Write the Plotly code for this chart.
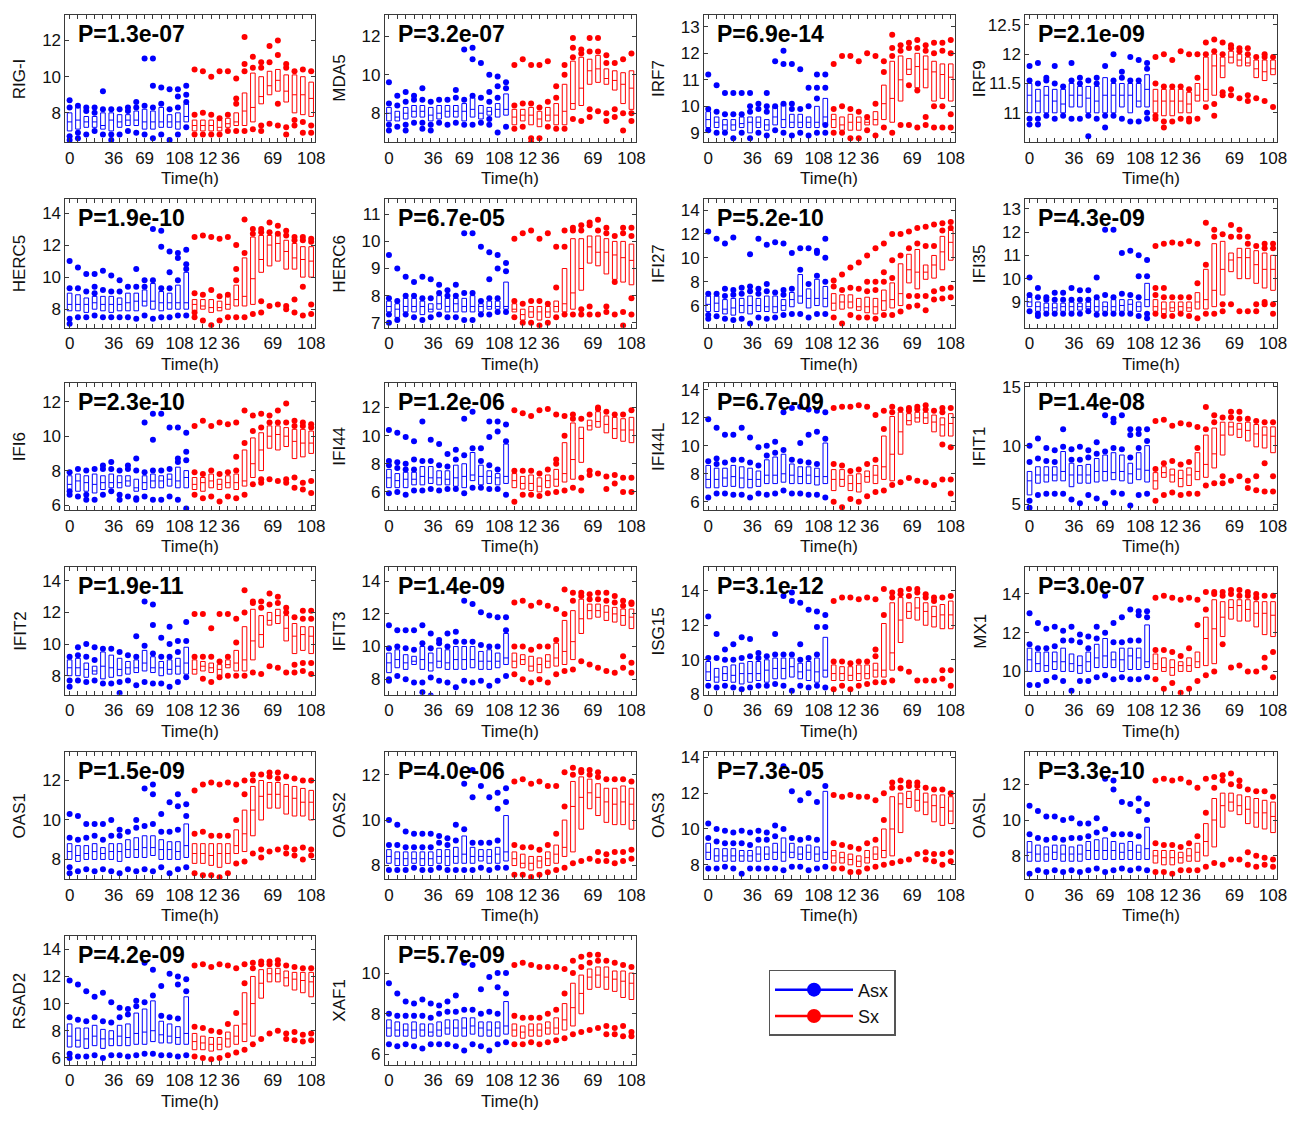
import plotly.graph_objects as go

# ---------------------------------------------------------------- data
GENES = ["RIG-I", "MDA5", "IRF7", "IRF9", "HERC5", "HERC6", "IFI27", "IFI35",
         "IFI6", "IFI44", "IFI44L", "IFIT1", "IFIT2", "IFIT3", "ISG15", "MX1",
         "OAS1", "OAS2", "OAS3", "OASL", "RSAD2", "XAF1"]

P_VALUES = ["1.3e-07", "3.2e-07", "6.9e-14", "2.1e-09", "1.9e-10", "6.7e-05",
            "5.2e-10", "4.3e-09", "2.3e-10", "1.2e-06", "6.7e-09", "1.4e-08",
            "1.9e-11", "1.4e-09", "3.1e-12", "3.0e-07", "1.5e-09", "4.0e-06",
            "7.3e-05", "3.3e-10", "4.2e-09", "5.7e-09"]

# sampling times (h) of each group
HOURS = [0, 5, 12, 21, 29, 36, 45, 53, 60, 69, 77, 84, 93, 101, 108]
TIME_LABELS = ["0", "36", "69", "108", "12", "36", "69", "108"]
TIME_LABEL_POS = [1, 6.3, 10, 14.2, 17.6, 20.3, 25.4, 30]

Y_RANGES = [[6.38, 13.42], [6.5, 13.1], [8.65, 13.45], [10.5, 12.67],
            [6.85, 14.85], [6.82, 11.55], [4.15, 14.9], [7.9, 13.4],
            [5.7, 13.1], [4.7, 13.75], [5.4, 14.5], [4.5, 15.35],
            [6.8, 14.85], [7.05, 14.85], [7.98, 15.35], [8.8, 15.37],
            [7.0, 13.45], [7.4, 13.0], [7.2, 14.3], [6.7, 13.8],
            [5.5, 14.95], [5.5, 11.8]]
Y_TICKS = [[8, 10, 12], [8, 10, 12], [9, 10, 11, 12, 13], [11, 11.5, 12, 12.5],
           [8, 10, 12, 14], [7, 8, 9, 10, 11], [6, 8, 10, 12, 14], [9, 10, 11, 12, 13],
           [6, 8, 10, 12], [6, 8, 10, 12], [6, 8, 10, 12, 14], [5, 10, 15],
           [8, 10, 12, 14], [8, 10, 12, 14], [8, 10, 12, 14], [10, 12, 14],
           [8, 10, 12], [8, 10, 12], [8, 10, 12, 14], [8, 10, 12],
           [6, 8, 10, 12, 14], [6, 8, 10]]

# (q1, median, q3) per time point, asymptomatic group
ASX_BOXES = [
    [(7.0, 7.5, 8.0), (7.1, 7.6, 8.3), (7.2, 7.5, 7.8), (7.2, 7.5, 7.8), (7.1, 7.3, 8.0), (7.0, 7.6, 8.0), (7.2, 7.5, 7.9), (7.3, 7.6, 7.9), (7.3, 7.6, 8.1), (7.1, 7.5, 8.2), (7.1, 7.5, 8.1), (7.2, 7.5, 8.3), (7.2, 7.5, 7.9), (7.1, 7.5, 8.0), (7.5, 7.8, 8.5)],
    [(7.6, 8.0, 8.3), (7.6, 7.8, 8.1), (7.7, 8.0, 8.3), (7.8, 8.1, 8.4), (7.8, 8.1, 8.4), (7.6, 7.9, 8.3), (7.7, 8.0, 8.4), (7.8, 8.1, 8.4), (7.8, 8.1, 8.4), (7.6, 8.1, 8.5), (7.8, 8.2, 8.8), (7.7, 8.0, 8.4), (7.9, 8.1, 8.3), (7.8, 8.2, 8.5), (7.9, 8.2, 9.0)],
    [(9.2, 9.5, 9.8), (9.2, 9.4, 9.6), (9.1, 9.3, 9.5), (9.1, 9.3, 9.5), (9.2, 9.35, 9.6), (9.0, 9.4, 9.6), (9.2, 9.4, 9.6), (9.1, 9.3, 9.5), (9.3, 9.6, 10.0), (9.2, 9.5, 10.1), (9.2, 9.4, 9.7), (9.2, 9.4, 9.7), (9.2, 9.4, 9.6), (9.2, 9.4, 10.0), (9.3, 9.6, 10.3)],
    [(11.0, 11.3, 11.5), (11.0, 11.2, 11.4), (11.0, 11.3, 11.45), (11.0, 11.2, 11.4), (11.0, 11.15, 11.4), (11.1, 11.3, 11.5), (11.1, 11.3, 11.45), (11.0, 11.25, 11.45), (11.0, 11.2, 11.45), (11.0, 11.3, 11.6), (11.0, 11.3, 11.5), (11.1, 11.3, 11.5), (11.0, 11.3, 11.5), (11.1, 11.2, 11.5), (11.1, 11.4, 11.65)],
    [(7.9, 8.3, 9.0), (7.9, 8.3, 8.9), (7.8, 8.3, 8.7), (8.0, 8.4, 8.8), (7.9, 8.3, 8.8), (7.8, 8.3, 8.8), (7.9, 8.3, 8.7), (7.9, 8.4, 9.0), (7.9, 8.5, 9.0), (8.2, 8.5, 9.2), (8.0, 8.5, 9.6), (7.9, 8.4, 9.1), (8.0, 8.4, 9.0), (8.0, 8.4, 9.5), (8.0, 8.4, 10.3)],
    [(7.4, 7.6, 7.8), (7.2, 7.5, 7.7), (7.4, 7.6, 7.9), (7.4, 7.6, 7.9), (7.3, 7.6, 7.8), (7.4, 7.5, 7.7), (7.5, 7.7, 8.0), (7.4, 7.6, 7.9), (7.4, 7.7, 7.9), (7.4, 7.6, 7.9), (7.4, 7.6, 8.0), (7.4, 7.6, 7.7), (7.5, 7.6, 7.8), (7.5, 7.6, 7.8), (7.5, 7.6, 8.5)],
    [(5.5, 6.1, 6.8), (5.5, 6.2, 6.8), (5.3, 5.7, 6.5), (5.2, 5.8, 6.6), (5.4, 6.0, 6.6), (5.3, 6.0, 6.8), (5.5, 6.0, 6.6), (5.5, 5.9, 6.8), (5.4, 5.9, 6.8), (5.6, 6.0, 6.5), (5.9, 6.5, 7.1), (6.2, 6.8, 8.6), (5.8, 6.6, 7.4), (6.0, 6.6, 8.2), (5.9, 6.6, 7.6)],
    [(8.8, 9.0, 9.2), (8.6, 8.8, 9.0), (8.6, 8.75, 8.95), (8.6, 8.75, 8.95), (8.6, 8.8, 8.95), (8.6, 8.8, 9.0), (8.65, 8.8, 8.95), (8.7, 8.8, 9.0), (8.6, 8.8, 9.1), (8.6, 8.8, 9.0), (8.6, 8.8, 9.1), (8.6, 8.85, 9.1), (8.6, 8.9, 9.1), (8.6, 8.8, 9.0), (8.8, 9.1, 9.8)],
    [(6.9, 7.2, 7.7), (6.8, 7.4, 7.8), (6.8, 7.3, 7.7), (6.7, 7.2, 7.8), (6.9, 7.3, 7.7), (7.0, 7.3, 7.8), (7.0, 7.3, 7.7), (7.1, 7.4, 7.7), (6.8, 7.0, 7.5), (6.9, 7.3, 7.7), (7.0, 7.4, 7.8), (7.0, 7.4, 7.7), (7.1, 7.5, 7.8), (7.0, 7.4, 8.2), (7.0, 7.6, 8.0)],
    [(6.3, 7.0, 7.6), (6.3, 6.8, 7.3), (6.3, 6.9, 7.4), (6.5, 6.9, 7.4), (6.5, 7.1, 7.8), (6.6, 7.0, 7.8), (6.5, 7.0, 7.5), (6.5, 6.9, 7.5), (6.4, 7.0, 7.9), (6.3, 7.1, 8.0), (6.8, 7.2, 8.8), (6.5, 7.1, 7.9), (6.6, 7.1, 7.5), (6.5, 7.0, 7.3), (6.6, 7.1, 9.4)],
    [(7.0, 7.6, 8.6), (7.0, 7.6, 8.4), (7.1, 7.7, 8.4), (7.1, 7.8, 8.6), (7.0, 7.7, 8.5), (7.0, 7.6, 8.4), (7.1, 7.6, 8.2), (7.3, 7.9, 9.0), (7.3, 7.9, 9.2), (7.4, 8.0, 9.4), (7.3, 7.9, 8.7), (7.3, 7.8, 8.5), (7.3, 7.9, 8.5), (7.2, 7.8, 8.4), (7.3, 7.8, 10.2)],
    [(5.8, 7.0, 7.8), (6.8, 7.5, 8.2), (6.9, 7.5, 8.2), (7.0, 7.5, 8.2), (7.0, 7.8, 9.5), (6.5, 7.5, 8.5), (6.8, 7.5, 8.3), (6.8, 7.5, 8.4), (6.9, 7.8, 8.9), (7.0, 7.8, 9.2), (7.1, 7.7, 9.4), (7.0, 7.8, 9.2), (6.8, 7.6, 8.5), (7.1, 8.0, 9.4), (6.9, 7.9, 10.0)],
    [(8.0, 8.5, 9.0), (8.0, 8.5, 9.1), (7.9, 8.4, 8.8), (8.1, 8.3, 8.6), (7.8, 8.6, 9.5), (7.9, 8.5, 9.3), (8.0, 8.4, 9.1), (8.1, 8.5, 8.9), (8.2, 8.5, 9.0), (8.3, 8.8, 9.6), (8.2, 8.5, 9.2), (8.0, 8.5, 8.9), (8.1, 8.4, 9.0), (8.1, 8.6, 9.1), (8.1, 8.8, 9.8)],
    [(8.4, 9.0, 9.6), (8.7, 9.2, 9.8), (8.6, 9.0, 9.5), (8.9, 9.1, 9.4), (8.6, 9.2, 10.0), (8.5, 9.0, 9.6), (8.7, 9.1, 9.9), (8.6, 9.0, 9.8), (8.6, 9.2, 10.0), (8.6, 9.2, 10.0), (8.7, 9.2, 10.0), (8.6, 9.1, 9.7), (8.6, 9.1, 9.8), (8.7, 9.1, 9.6), (8.9, 9.3, 10.8)],
    [(8.8, 9.3, 9.9), (8.7, 9.0, 9.5), (8.8, 9.2, 9.6), (8.7, 9.1, 9.7), (8.6, 9.2, 9.8), (8.7, 9.2, 9.9), (8.8, 9.2, 9.9), (8.7, 9.4, 10.0), (8.9, 9.5, 10.1), (8.9, 9.5, 10.1), (9.0, 9.6, 10.1), (8.9, 9.3, 9.8), (8.8, 9.4, 9.9), (8.7, 9.3, 10.1), (9.0, 9.4, 11.3)],
    [(10.0, 10.6, 11.2), (10.0, 10.4, 11.0), (10.0, 10.3, 11.0), (10.1, 10.5, 11.0), (10.0, 10.5, 11.2), (10.0, 10.4, 10.9), (9.9, 10.3, 10.8), (10.0, 10.5, 11.0), (10.2, 10.7, 11.4), (10.2, 10.8, 11.7), (10.2, 10.6, 11.0), (10.0, 10.6, 11.2), (10.1, 10.8, 11.2), (10.1, 10.7, 11.2), (10.2, 10.5, 12.4)],
    [(8.0, 8.4, 8.8), (7.9, 8.2, 8.7), (8.0, 8.3, 8.7), (8.0, 8.4, 8.8), (8.0, 8.3, 8.6), (8.0, 8.4, 8.8), (7.9, 8.4, 8.8), (8.1, 8.5, 9.0), (8.1, 8.5, 9.1), (8.1, 8.6, 9.2), (8.2, 8.6, 9.2), (8.0, 8.5, 9.0), (8.0, 8.5, 8.9), (8.0, 8.4, 8.9), (8.1, 8.7, 9.8)],
    [(8.1, 8.4, 8.7), (8.0, 8.3, 8.6), (8.0, 8.3, 8.6), (8.1, 8.3, 8.6), (8.0, 8.3, 8.6), (8.0, 8.3, 8.6), (8.1, 8.4, 8.7), (8.0, 8.4, 8.7), (8.1, 8.4, 8.8), (8.1, 8.5, 9.3), (8.1, 8.4, 8.8), (8.2, 8.4, 8.7), (8.1, 8.4, 8.7), (8.1, 8.5, 8.8), (8.2, 8.6, 10.2)],
    [(8.3, 8.7, 9.2), (8.2, 8.5, 8.9), (8.2, 8.5, 8.9), (8.2, 8.5, 8.9), (8.2, 8.5, 8.8), (8.2, 8.5, 8.8), (8.2, 8.6, 9.0), (8.3, 8.6, 9.0), (8.3, 8.7, 9.2), (8.2, 8.7, 9.5), (8.4, 8.7, 9.2), (8.3, 8.6, 9.0), (8.3, 8.7, 9.1), (8.2, 8.6, 9.0), (8.3, 8.7, 12.1)],
    [(7.7, 8.2, 8.8), (7.7, 8.1, 8.6), (7.7, 8.1, 8.5), (7.8, 8.2, 8.6), (7.7, 8.1, 8.6), (7.7, 8.1, 8.5), (7.7, 8.1, 8.6), (7.8, 8.3, 8.8), (7.8, 8.3, 8.9), (7.8, 8.3, 9.0), (7.8, 8.3, 8.8), (7.8, 8.2, 8.7), (7.8, 8.3, 8.8), (7.8, 8.2, 8.6), (7.8, 8.4, 9.6)],
    [(6.8, 7.6, 8.5), (6.8, 7.3, 8.2), (6.7, 7.4, 8.2), (6.9, 7.6, 8.4), (6.7, 7.4, 8.1), (6.9, 7.4, 8.0), (6.9, 7.6, 8.4), (6.9, 7.5, 8.5), (7.0, 7.8, 9.3), (7.0, 7.9, 9.6), (7.2, 8.0, 10.2), (7.1, 7.7, 8.7), (7.1, 7.6, 8.5), (7.0, 7.5, 8.3), (7.0, 7.8, 10.5)],
    [(6.9, 7.3, 7.7), (6.9, 7.2, 7.6), (6.9, 7.2, 7.5), (6.8, 7.2, 7.6), (6.9, 7.2, 7.5), (6.9, 7.1, 7.5), (6.9, 7.2, 7.6), (7.0, 7.3, 7.7), (6.9, 7.3, 7.7), (6.9, 7.3, 7.8), (7.0, 7.4, 7.8), (6.9, 7.3, 7.6), (6.9, 7.2, 7.6), (6.9, 7.3, 7.6), (7.0, 7.4, 8.6)],
]

# individual samples lying outside the box, asymptomatic group
ASX_DOTS = [
    [(6.5, 6.7, 8.3, 8.7), (6.6, 6.9, 8.4), (6.8, 8.1, 8.3), (7.0, 8.0, 8.3), (6.8, 8.2, 9.2), (6.5, 6.8, 8.2), (6.8, 8.2), (7.0, 8.1, 8.3), (6.9, 8.3, 8.6), (6.8, 8.4, 11.0), (6.6, 8.3, 9.5, 11.0), (6.8, 8.5, 9.4), (6.5, 8.2, 9.3), (6.8, 8.3, 8.9, 9.3), (7.2, 8.6, 9.0, 9.5)],
    [(7.1, 7.4, 8.5, 9.6), (7.3, 8.4, 8.9), (7.1, 7.4, 8.6, 9.1), (7.5, 8.7, 8.9), (7.2, 7.5, 8.7, 9.3), (7.1, 7.4, 8.6), (7.5, 8.7), (7.4, 8.7), (7.5, 8.8, 9.2), (7.4, 8.7, 11.3), (7.4, 8.9, 10.8, 11.4), (7.5, 8.8, 10.6), (7.4, 7.7, 8.6, 9.1, 10.0), (7.0, 8.8, 9.4, 9.9), (7.3, 9.3, 9.6)],
    [(9.1, 9.9, 11.2), (9.0, 9.8, 10.8), (9.0, 9.7, 10.5), (8.8, 9.7, 10.5), (9.0, 9.7, 10.5), (8.8, 9.8, 10.0, 10.5), (9.0, 9.9, 10.1), (8.9, 9.8, 10.0, 10.5), (9.1, 10.0, 11.7), (9.0, 10.1, 11.6, 12.1), (8.9, 9.9, 10.1, 11.6), (9.0, 9.9, 11.4), (8.9, 10.0, 10.7), (9.0, 10.3, 10.7, 11.2), (9.0, 9.3, 10.7, 11.2)],
    [(10.8, 10.9, 11.55, 11.8), (10.8, 10.9, 11.5, 11.85), (10.95, 11.55, 11.6), (10.9, 11.5, 11.8), (10.95, 11.45), (10.9, 11.55, 11.85), (10.9, 11.5, 11.6), (10.6, 10.95, 11.55), (10.9, 11.5, 11.6), (10.75, 10.95, 11.8), (10.95, 11.55, 12.0), (10.9, 11.6, 11.7), (10.85, 11.55, 11.95), (10.85, 11.55, 11.9), (10.9, 11.0, 11.75, 11.85)],
    [(7.1, 7.4, 9.3, 11.0), (7.5, 9.3, 10.6), (7.5, 9.1, 10.2), (7.6, 9.0, 9.4, 10.2), (7.5, 9.2, 10.4), (7.5, 9.1, 10.1), (7.5, 9.1, 9.8), (7.5, 9.4), (7.4, 9.4, 10.5), (7.6, 9.4, 9.8), (7.4, 9.8, 13.0), (7.5, 9.3, 11.9, 12.9), (7.5, 9.3, 10.3, 11.6), (7.6, 9.8, 11.2, 11.5), (7.6, 10.5, 10.8, 11.7)],
    [(7.0, 7.3, 7.9, 9.5), (7.1, 7.8, 9.0), (7.3, 8.0, 8.7), (7.2, 8.0, 8.5), (7.1, 7.9, 8.7), (7.2, 7.9, 8.6), (7.3, 8.1, 8.4), (7.2, 8.0, 8.2), (7.2, 8.0, 8.4), (7.1, 8.1, 10.3), (7.1, 8.1, 10.3), (7.3, 7.8, 9.8), (7.3, 7.9, 8.6, 9.6), (7.4, 7.9, 9.0, 9.5), (7.4, 8.9, 9.2)],
    [(4.9, 5.2, 7.0, 12.2), (5.1, 7.0, 11.6), (4.9, 6.8, 7.4, 11.2), (4.8, 6.9, 7.3, 11.7), (4.9, 7.0, 7.5), (4.5, 7.2, 7.6, 10.3), (5.0, 7.0, 7.4, 11.6), (4.9, 7.2, 7.8, 11.1), (5.0, 7.1, 11.3), (5.2, 6.9, 7.3, 11.2), (5.3, 7.4, 10.4), (5.3, 9.0, 10.8), (5.0, 7.8, 10.8), (5.3, 8.5, 10.4, 10.6), (5.3, 8.0, 10.0, 11.6)],
    [(8.6, 9.3, 10.05), (8.4, 8.5, 9.2, 9.6), (8.5, 9.1, 9.2), (8.5, 9.1, 9.4), (8.5, 9.1, 9.4), (8.5, 9.1, 9.6), (8.5, 9.1, 9.5), (8.6, 9.1, 9.5), (8.45, 9.2, 10.05), (8.5, 9.3, 12.1), (8.5, 9.2, 12.1), (8.5, 9.35, 11.1), (8.5, 9.3, 11.2), (8.4, 9.2, 10.1, 11.0), (8.3, 8.5, 10.1, 10.8)],
    [(6.6, 6.8, 7.9), (6.5, 8.1), (6.3, 6.6, 8.0), (6.3, 8.1), (6.6, 8.1, 8.3), (6.8, 8.1, 8.5), (6.3, 6.6, 8.0), (6.5, 8.1, 8.3), (6.3, 6.4, 8.0, 8.7), (6.5, 7.9, 10.8), (6.3, 8.0, 9.8, 11.3), (6.3, 8.0, 11.3), (6.5, 8.1, 10.5), (6.3, 8.5, 8.7, 10.5), (5.8, 8.6, 9.1, 10.2)],
    [(5.9, 7.9, 8.2, 10.4), (6.0, 7.7, 8.1, 10.2), (5.8, 7.6, 8.0, 9.9), (6.1, 7.6, 8.3, 9.6), (6.1, 8.2, 11.0), (6.2, 8.2, 9.7), (6.1, 7.9, 9.4), (6.2, 7.8, 8.7), (6.2, 8.3, 9.0), (5.9, 8.6, 11.2), (6.3, 9.1, 11.7), (6.3, 8.2, 9.1), (6.2, 7.9, 9.9, 11.0), (6.2, 7.6, 10.3, 11.0), (5.8, 9.6, 10.8)],
    [(6.3, 8.9, 11.9), (6.6, 8.7, 9.1, 11.3), (6.6, 8.8, 10.8), (6.5, 9.0, 10.8), (6.5, 9.0, 11.3), (6.3, 8.8, 10.6), (6.6, 8.6, 9.9), (6.5, 9.3, 10.0), (6.6, 9.5, 10.3), (6.8, 9.7, 12.4), (6.6, 9.0, 12.7), (6.6, 8.9, 10.2, 12.8), (6.5, 8.8, 10.8, 12.6), (6.5, 8.7, 11.0, 12.5), (6.3, 10.5, 12.4)],
    [(4.7, 5.3, 8.6, 10.0), (5.8, 8.9, 10.6), (5.9, 8.7, 9.8), (5.9, 8.6, 9.6), (5.9, 9.9, 11.4), (5.4, 8.8, 9.7), (5.1, 8.8, 9.9), (5.8, 9.0, 9.6), (5.5, 9.3, 10.3), (5.1, 9.5, 12.6), (6.0, 9.8, 12.0, 12.3), (5.9, 9.7, 12.6), (4.9, 9.0, 10.9, 11.4), (5.8, 9.8, 11.0, 11.4), (5.9, 10.4, 11.4)],
    [(7.3, 7.7, 9.2), (7.7, 9.3, 9.8), (7.6, 9.2, 10.0), (7.7, 9.0, 9.8), (7.5, 9.7), (6.6, 7.5, 9.7), (6.9, 7.6, 9.5), (7.7, 9.3), (7.4, 9.2, 10.5), (7.6, 9.9, 12.7), (7.5, 9.4, 11.2, 12.5), (7.5, 9.2, 10.4), (7.3, 9.2, 10.0, 11.1), (7.6, 9.5, 10.2), (7.9, 10.2, 11.4)],
    [(7.9, 8.0, 9.9, 11.3), (8.2, 10.0, 11.0), (8.0, 9.9, 11.0), (7.8, 9.8, 11.0), (7.2, 7.8, 10.2, 11.3), (7.0, 8.1, 9.9, 10.8), (7.9, 10.2, 10.4), (7.8, 10.0, 10.8), (7.5, 10.3, 10.9), (7.9, 10.3, 12.8), (7.8, 10.3, 12.6), (7.9, 10.1, 12.1), (7.6, 10.0, 11.9), (7.9, 10.0, 11.8), (8.2, 11.0, 11.8)],
    [(8.5, 10.1, 12.5), (8.4, 10.1, 11.5), (8.5, 10.0, 10.6), (8.4, 10.0, 10.9), (8.3, 10.1, 11.3), (8.4, 10.2, 11.2), (8.5, 10.1, 10.4), (8.5, 10.2), (8.6, 10.3, 11.5), (8.5, 10.3, 13.7), (8.2, 10.3, 13.4, 13.9), (8.5, 10.0, 10.9, 13.3), (8.4, 10.1, 12.9), (8.5, 10.3, 11.9, 12.8), (8.4, 11.9, 12.6)],
    [(9.3, 11.4, 13.0), (9.3, 11.2, 12.5), (9.5, 11.2, 12.2), (9.7, 11.3, 12.3), (9.5, 11.6, 12.1), (9.0, 11.6, 12.3), (9.5, 11.5, 11.9), (9.5, 11.2, 11.8), (9.7, 11.7, 12.3), (9.8, 12.0, 13.9), (9.6, 11.5, 12.5), (9.7, 11.5, 12.8), (9.6, 11.6, 13.2), (9.6, 11.6, 12.9, 13.1), (9.7, 12.8, 13.1)],
    [(7.3, 7.6, 9.1, 10.3), (7.4, 9.0, 10.2), (7.5, 9.1, 9.8), (7.4, 9.2, 9.8), (7.5, 9.0, 9.8), (7.4, 9.2, 10.0), (7.3, 9.2, 9.5), (7.5, 9.4), (7.4, 9.6, 10.0), (7.5, 9.7, 11.6), (7.4, 9.8, 11.3, 11.8), (7.6, 9.4, 10.3), (7.3, 9.4, 10.9), (7.5, 9.5, 10.7, 11.3), (7.6, 10.2, 10.8)],
    [(7.8, 8.9, 10.0), (7.8, 8.9, 9.8), (7.8, 8.8, 9.5), (7.9, 8.8, 9.4), (7.8, 8.8, 9.4), (7.8, 8.8, 9.4), (7.9, 9.0, 9.3), (7.8, 8.9, 9.2), (7.8, 9.1, 9.8), (7.8, 9.6, 11.6), (7.8, 9.0, 11.0, 12.2), (7.9, 9.0, 11.5), (7.8, 9.0, 11.0), (7.9, 9.1, 10.5, 11.2), (7.9, 10.8, 11.4)],
    [(7.8, 9.5, 10.3), (7.8, 9.3, 10.0), (7.9, 9.2, 9.9), (7.8, 9.2, 9.8), (7.5, 9.2, 9.9), (7.8, 9.1, 9.8), (7.8, 9.4, 9.9), (7.8, 9.4, 9.8), (7.8, 9.6, 10.2), (7.7, 10.0, 13.5), (7.9, 9.5, 12.1), (7.9, 9.4, 11.6), (7.7, 9.5, 12.0), (7.8, 9.4, 11.5), (7.9, 12.4)],
    [(7.0, 9.2, 10.8), (7.2, 9.0, 10.5), (7.1, 8.9, 10.2), (7.2, 9.0, 10.2), (7.1, 8.9, 10.0), (7.2, 9.0, 10.1), (7.1, 9.0, 9.8), (7.2, 9.1, 9.8), (7.3, 9.3, 10.1), (7.1, 9.5, 12.3), (7.2, 9.2, 11.7, 12.2), (7.3, 9.2, 11.0), (7.2, 9.2, 10.9), (7.3, 9.1, 10.5, 11.2), (7.2, 10.0, 10.9)],
    [(6.0, 6.3, 9.0, 11.7), (6.1, 8.8, 11.4), (6.1, 8.7, 10.9), (6.2, 9.0, 10.5), (6.0, 8.7, 10.8), (6.2, 8.6, 10.1), (6.2, 9.0, 9.7), (6.1, 9.2, 9.6), (6.2, 9.8, 10.2), (6.3, 10.1, 13.0), (6.3, 10.6, 12.5), (6.2, 9.1, 11.3), (6.2, 9.0, 12.2), (6.1, 8.9, 11.4, 12.0), (6.2, 10.9, 11.8)],
    [(6.5, 8.0, 9.5), (6.4, 7.9, 9.0), (6.5, 7.9, 8.6), (6.4, 7.9, 8.5), (6.3, 7.9, 8.7), (6.5, 7.8, 8.5), (6.5, 8.0, 8.4), (6.5, 8.1, 8.6), (6.4, 8.1, 8.9), (6.2, 8.2, 10.5), (6.5, 8.2, 10.4), (6.4, 8.0, 9.2), (6.2, 8.1, 9.8), (6.5, 8.0, 9.3, 10.0), (6.6, 9.0, 10.0)],
]

# (q1, median, q3) per time point, symptomatic group
SX_BOXES = [
    [(7.0, 7.3, 7.6), (7.0, 7.3, 7.6), (7.0, 7.3, 7.6), (7.0, 7.2, 7.6), (7.2, 7.4, 7.7), (7.3, 7.5, 8.0), (7.3, 8.1, 9.1), (7.5, 8.3, 10.2), (8.5, 8.9, 10.0), (9.0, 9.5, 10.3), (9.2, 9.8, 10.4), (8.6, 9.2, 10.1), (8.0, 9.0, 10.1), (7.9, 9.0, 10.0), (7.8, 8.8, 9.7)],
    [(7.4, 7.8, 8.2), (7.6, 7.9, 8.2), (7.4, 7.9, 8.3), (7.3, 7.7, 8.1), (7.6, 7.9, 8.3), (7.4, 7.9, 8.5), (7.4, 8.1, 9.5), (8.2, 8.5, 10.7), (8.4, 9.3, 10.9), (9.5, 10.2, 10.8), (9.6, 10.3, 11.0), (9.5, 9.8, 10.3), (9.2, 9.7, 10.2), (8.5, 9.5, 10.1), (8.2, 9.3, 10.2)],
    [(9.2, 9.5, 9.7), (9.1, 9.3, 9.6), (9.1, 9.4, 9.7), (9.1, 9.4, 9.6), (9.3, 9.4, 9.5), (9.3, 9.5, 9.8), (9.5, 10.1, 10.8), (9.4, 10.3, 11.7), (10.2, 11.0, 11.9), (11.2, 11.4, 11.8), (10.7, 11.5, 12.0), (10.7, 11.4, 11.9), (10.2, 11.3, 11.7), (10.3, 11.2, 11.6), (10.2, 11.1, 11.6)],
    [(11.0, 11.2, 11.4), (10.95, 11.2, 11.4), (10.95, 11.2, 11.4), (11.0, 11.2, 11.4), (11.0, 11.15, 11.35), (11.2, 11.3, 11.5), (11.2, 11.4, 11.95), (11.3, 11.8, 12.0), (11.6, 11.8, 11.95), (11.85, 11.95, 12.05), (11.8, 11.9, 12.0), (11.8, 11.85, 11.95), (11.6, 11.75, 11.9), (11.55, 11.7, 11.9), (11.65, 11.75, 11.9)],
    [(7.9, 8.3, 8.6), (8.0, 8.2, 8.6), (7.8, 8.1, 8.6), (7.9, 8.1, 8.5), (8.0, 8.3, 8.8), (8.2, 8.6, 9.5), (8.2, 8.8, 11.2), (8.3, 9.9, 12.5), (10.3, 11.1, 12.6), (10.7, 12.0, 12.6), (11.0, 12.1, 12.6), (10.5, 11.6, 12.3), (10.5, 11.2, 12.1), (10.0, 11.1, 11.9), (10.0, 11.0, 11.9)],
    [(7.4, 7.5, 7.7), (7.1, 7.3, 7.5), (7.2, 7.4, 7.6), (7.1, 7.4, 7.6), (7.2, 7.4, 7.6), (7.4, 7.6, 7.8), (7.4, 7.7, 9.0), (7.5, 8.1, 10.1), (8.2, 9.0, 10.1), (9.2, 9.8, 10.2), (9.1, 9.6, 10.2), (8.8, 9.6, 10.1), (8.6, 9.5, 10.0), (8.5, 9.4, 10.0), (8.4, 9.3, 9.9)],
    [(5.6, 6.2, 7.0), (5.7, 6.3, 6.9), (5.8, 6.3, 6.9), (5.6, 5.9, 6.6), (5.4, 5.9, 6.7), (5.3, 5.9, 6.6), (5.6, 6.4, 7.3), (5.8, 6.5, 7.9), (6.0, 7.0, 9.5), (7.9, 9.0, 10.3), (7.4, 8.8, 10.7), (8.2, 8.8, 9.4), (8.3, 9.4, 10.2), (9.0, 10.5, 11.8), (9.8, 11.3, 12.3)],
    [(8.6, 8.8, 9.1), (8.5, 8.7, 9.0), (8.6, 8.75, 9.0), (8.6, 8.8, 9.0), (8.6, 8.75, 9.0), (8.7, 9.0, 9.4), (8.7, 9.1, 10.4), (8.8, 9.5, 11.5), (9.3, 10.4, 11.6), (10.3, 10.8, 11.1), (10.0, 10.9, 11.3), (10.0, 10.9, 11.3), (9.8, 10.6, 11.2), (9.6, 10.4, 11.1), (9.5, 10.4, 11.0)],
    [(6.9, 7.2, 7.6), (6.8, 7.3, 7.6), (7.0, 7.4, 7.8), (6.9, 7.2, 7.5), (7.0, 7.3, 7.7), (6.9, 7.3, 7.8), (7.1, 7.4, 9.2), (7.6, 8.4, 9.9), (8.0, 9.2, 10.2), (9.3, 10.0, 10.6), (9.2, 10.1, 10.6), (9.4, 10.0, 10.5), (8.7, 9.7, 10.4), (8.8, 9.6, 10.4), (9.0, 9.6, 10.3)],
    [(6.3, 6.8, 7.3), (6.2, 6.6, 7.1), (6.1, 6.6, 7.2), (6.0, 6.4, 7.0), (6.3, 6.8, 7.2), (6.4, 6.9, 7.6), (6.7, 7.3, 9.5), (6.9, 8.3, 10.9), (8.1, 9.8, 10.6), (10.4, 10.7, 11.1), (10.6, 11.0, 11.7), (10.2, 10.8, 11.4), (9.8, 10.5, 11.3), (9.6, 10.4, 11.2), (9.5, 10.4, 11.3)],
    [(6.8, 7.6, 8.3), (7.1, 7.6, 8.3), (6.8, 7.3, 7.9), (6.7, 7.3, 8.0), (7.4, 7.8, 8.2), (7.3, 7.9, 8.6), (7.6, 8.5, 10.7), (7.5, 9.4, 12.1), (9.4, 11.0, 12.4), (11.5, 11.8, 12.3), (11.7, 12.0, 12.4), (11.6, 12.0, 12.4), (11.0, 11.7, 12.2), (10.7, 11.5, 12.0), (10.7, 11.6, 12.3)],
    [(6.3, 7.0, 7.7), (7.3, 7.7, 8.2), (6.9, 7.5, 8.0), (6.5, 7.2, 7.9), (6.6, 7.5, 8.1), (7.1, 7.8, 9.4), (7.3, 8.4, 10.9), (8.1, 9.3, 11.5), (9.2, 10.9, 12.0), (10.9, 11.6, 12.0), (10.7, 11.4, 11.9), (10.4, 11.3, 12.0), (9.9, 11.0, 11.8), (9.8, 10.9, 11.6), (9.4, 10.8, 11.6)],
    [(8.1, 8.4, 9.0), (8.3, 8.6, 8.9), (8.2, 8.5, 8.8), (8.0, 8.4, 8.7), (8.5, 8.7, 9.0), (8.3, 8.8, 9.6), (8.3, 9.0, 11.1), (9.0, 10.2, 12.2), (9.8, 10.6, 11.8), (11.2, 11.5, 12.0), (11.3, 11.8, 12.2), (10.2, 11.0, 11.8), (9.4, 10.5, 11.3), (9.6, 10.6, 11.1), (9.4, 10.5, 11.1)],
    [(8.7, 9.1, 9.6), (8.9, 9.2, 9.5), (8.5, 8.8, 9.4), (8.4, 8.9, 9.3), (8.7, 9.1, 9.5), (8.8, 9.3, 10.2), (8.9, 9.7, 11.6), (9.2, 10.3, 12.2), (10.8, 11.7, 12.9), (11.7, 12.2, 12.6), (11.8, 12.2, 12.6), (11.6, 12.1, 12.5), (11.5, 12.0, 12.4), (11.3, 11.9, 12.3), (11.1, 11.8, 12.3)],
    [(8.8, 9.2, 9.7), (8.8, 9.2, 9.6), (8.8, 9.1, 9.6), (8.8, 9.2, 9.7), (8.9, 9.2, 9.7), (9.0, 9.4, 9.8), (9.0, 9.4, 12.1), (9.4, 10.4, 13.3), (11.0, 12.3, 13.6), (12.4, 12.8, 13.3), (12.3, 13.0, 13.6), (12.0, 12.8, 13.3), (11.9, 12.5, 13.1), (11.8, 12.6, 13.2), (11.8, 12.6, 13.4)],
    [(10.1, 10.4, 10.9), (10.0, 10.2, 10.7), (9.8, 10.2, 10.6), (10.0, 10.3, 10.5), (10.0, 10.3, 10.7), (10.2, 10.5, 11.0), (10.3, 11.7, 12.8), (10.4, 12.2, 13.7), (11.8, 12.8, 13.6), (12.7, 13.3, 13.7), (12.6, 13.4, 13.7), (12.6, 13.2, 13.7), (12.3, 13.0, 13.6), (11.9, 13.0, 13.6), (11.8, 12.9, 13.6)],
    [(7.8, 8.3, 8.8), (7.8, 8.3, 8.8), (7.7, 8.2, 8.8), (7.6, 8.3, 8.8), (7.8, 8.3, 8.8), (8.3, 8.7, 9.5), (8.4, 9.3, 10.5), (9.2, 10.5, 11.7), (10.0, 11.2, 12.0), (10.6, 11.3, 11.9), (10.6, 11.3, 11.9), (10.3, 11.2, 11.8), (10.2, 11.1, 11.7), (10.2, 10.9, 11.6), (10.0, 10.9, 11.5)],
    [(8.0, 8.3, 8.6), (7.9, 8.1, 8.5), (7.8, 8.1, 8.4), (7.9, 8.2, 8.4), (8.0, 8.3, 8.6), (8.1, 8.5, 8.9), (8.4, 8.8, 10.0), (8.6, 10.6, 11.7), (9.6, 11.0, 11.9), (10.5, 11.2, 11.8), (10.2, 11.0, 11.6), (9.9, 10.8, 11.4), (9.8, 10.7, 11.4), (9.8, 10.8, 11.5), (9.6, 10.7, 11.4)],
    [(8.1, 8.5, 8.8), (8.1, 8.4, 8.7), (8.0, 8.3, 8.6), (7.9, 8.2, 8.5), (8.1, 8.4, 8.8), (8.3, 8.6, 9.0), (8.4, 8.8, 10.0), (8.5, 10.0, 11.8), (9.8, 11.4, 12.0), (11.2, 11.7, 12.1), (11.0, 11.6, 12.2), (10.8, 11.5, 12.0), (10.4, 11.3, 11.9), (10.2, 11.2, 11.9), (10.3, 11.0, 11.8)],
    [(7.6, 8.0, 8.3), (7.5, 7.9, 8.3), (7.5, 7.9, 8.3), (7.6, 7.9, 8.2), (7.7, 8.0, 8.4), (7.7, 8.2, 8.7), (8.0, 8.8, 9.8), (8.5, 10.0, 11.2), (9.6, 10.8, 11.5), (10.5, 11.0, 11.5), (10.3, 10.8, 11.4), (9.8, 10.6, 11.3), (9.6, 10.4, 11.2), (9.5, 10.4, 11.1), (9.3, 10.2, 11.0)],
    [(6.6, 7.2, 7.8), (6.6, 7.1, 7.6), (6.5, 7.0, 7.5), (6.6, 7.0, 7.5), (6.8, 7.4, 7.9), (7.0, 7.6, 8.4), (7.2, 8.5, 10.8), (7.6, 10.0, 12.0), (10.4, 11.5, 12.5), (11.6, 12.2, 12.6), (11.6, 12.2, 12.6), (11.3, 11.9, 12.4), (11.0, 11.8, 12.3), (10.8, 11.7, 12.3), (10.5, 11.6, 12.3)],
    [(6.9, 7.2, 7.5), (6.8, 7.1, 7.4), (6.9, 7.2, 7.5), (6.9, 7.2, 7.5), (7.0, 7.3, 7.6), (7.0, 7.3, 7.8), (7.2, 7.7, 8.5), (7.4, 8.3, 9.5), (8.0, 9.0, 9.9), (9.2, 9.8, 10.2), (9.3, 9.9, 10.3), (9.2, 9.8, 10.3), (9.1, 9.7, 10.1), (8.8, 9.6, 10.1), (8.7, 9.5, 10.0)],
]

# individual samples lying outside the box, symptomatic group
SX_DOTS = [
    [(6.8, 7.9, 10.4), (6.8, 8.0, 10.3), (6.8, 7.9, 10.0), (6.8, 7.7, 10.3), (7.0, 7.9, 10.3), (7.0, 8.5, 8.8, 9.9), (7.0, 10.3, 10.7, 12.2), (7.1, 10.5, 11.1), (7.0, 7.3, 10.5, 10.8), (7.4, 10.8, 11.7), (7.3, 8.5, 11.2, 12.0), (6.8, 7.2, 10.5, 10.7), (7.3, 7.6, 10.3), (6.9, 7.5, 10.4), (6.9, 7.3, 10.3)],
    [(7.2, 8.4, 10.5), (7.3, 8.5, 10.8), (6.5, 6.7, 8.5, 10.5), (6.7, 8.3, 10.5), (7.3, 8.6, 10.7), (7.2, 8.8, 9.4), (7.2, 10.0, 10.5), (7.7, 10.9, 11.4, 11.9), (7.6, 11.1, 11.3), (7.8, 8.2, 11.2, 11.9), (8.1, 11.2, 11.9), (7.6, 8.0, 10.6, 11.0), (7.8, 8.2, 10.6), (7.1, 8.0, 10.8), (7.6, 8.0, 11.1)],
    [(9.0, 9.9, 11.6), (9.0, 10.0, 11.9), (8.8, 9.9, 11.9), (8.8, 9.8, 11.7), (9.1, 9.6, 12.0), (8.9, 10.1, 11.9), (9.2, 11.3, 11.7), (9.0, 11.9, 12.2, 12.7), (9.3, 12.1, 12.3), (9.3, 10.8, 12.2, 12.4), (9.2, 10.6, 12.2, 12.5), (9.3, 9.6, 12.1, 12.3), (9.2, 10.0, 12.0, 12.4), (9.2, 10.0, 12.1, 12.4), (9.2, 9.7, 12.0, 12.5)],
    [(10.9, 10.95, 11.5, 11.95), (10.75, 10.85, 11.45, 12.0), (10.85, 11.45, 11.9), (10.9, 11.45, 12.05), (10.85, 10.9, 11.4, 12.0), (10.9, 11.6, 12.0), (11.1, 12.0, 12.2), (10.95, 11.15, 12.05, 12.25), (11.3, 11.35, 12.0, 12.2), (11.3, 11.4, 12.1, 12.15), (11.25, 12.05, 12.1), (11.2, 11.3, 12.0, 12.1), (11.25, 11.95), (11.2, 11.95, 12.0), (11.1, 11.95)],
    [(7.5, 7.8, 9.0, 12.5), (7.3, 8.9, 12.6), (7.0, 9.2, 12.5), (7.3, 8.8, 12.4), (7.5, 8.9, 12.5), (7.5, 9.8, 10.5, 12.0), (7.5, 11.5, 13.6), (7.7, 12.7, 13.0), (7.8, 8.5, 12.8, 13.0), (8.2, 12.8, 13.4), (8.3, 12.7, 13.2), (8.0, 8.2, 12.6, 12.9), (7.8, 8.6, 12.3, 12.5), (7.6, 9.4, 12.3, 12.5), (7.7, 8.3, 12.2, 12.4)],
    [(7.2, 7.8, 10.1), (7.0, 7.7, 10.3), (7.0, 7.8, 10.4), (6.9, 7.8, 10.1), (7.0, 7.7, 10.3), (7.2, 8.3, 9.8), (7.3, 9.8, 10.4), (7.3, 10.4, 10.5), (7.3, 7.5, 10.4, 10.6), (7.3, 7.6, 10.6, 10.7), (7.3, 10.4, 10.8), (7.4, 7.6, 10.3, 10.5), (7.3, 8.5, 10.2), (6.9, 7.4, 10.3, 10.5), (7.3, 7.9, 10.2, 10.5)],
    [(5.0, 7.6, 8.1), (4.5, 7.3, 8.6), (5.2, 7.5, 9.2), (5.0, 7.4, 9.6), (5.0, 7.2, 8.0, 10.2), (4.9, 7.3, 8.0, 10.8), (5.2, 8.0, 8.8, 11.2), (5.2, 8.3, 9.8, 12.0), (5.5, 10.2, 12.0), (5.9, 6.8, 10.8, 12.2), (6.0, 6.8, 11.2, 12.5), (5.6, 6.8, 11.0, 12.6), (6.5, 7.2, 11.0, 12.8), (6.6, 7.4, 12.3, 12.9), (6.7, 7.5, 12.5, 13.0)],
    [(8.5, 9.3, 9.6, 11.4), (8.4, 9.2, 9.6, 11.5), (8.4, 9.2, 11.55), (8.5, 9.2, 11.5), (8.4, 9.2, 11.6), (8.3, 9.8, 11.5), (8.5, 10.6, 12.4), (8.5, 11.8, 12.1), (8.6, 8.9, 11.9), (8.9, 11.8, 12.3), (8.6, 11.8, 12.1), (8.6, 11.5, 11.8), (8.6, 8.9, 11.4), (8.9, 9.0, 11.3, 11.5), (8.5, 8.9, 11.3, 11.5)],
    [(6.6, 7.9, 10.6), (6.4, 7.8, 10.9), (6.5, 8.0, 10.6), (6.2, 7.8, 10.8), (6.5, 7.9, 10.7), (6.4, 8.0, 8.8, 10.8), (6.6, 9.6, 11.5), (7.2, 10.3, 11.2), (7.3, 7.5, 10.5, 11.3), (7.5, 10.8, 11.2), (7.4, 10.8, 11.5), (7.3, 7.5, 10.8, 11.9), (7.0, 7.6, 10.6, 10.9), (6.9, 7.3, 10.6, 10.8), (6.7, 7.4, 10.5, 10.7)],
    [(5.3, 7.5, 11.8), (5.8, 7.5, 11.6), (5.8, 7.5, 11.4), (5.7, 7.3, 11.8), (5.9, 7.6, 11.9), (6.0, 8.0, 8.3, 11.5), (6.1, 10.0, 11.4), (6.3, 11.2, 11.5), (6.1, 7.0, 11.2), (7.2, 7.5, 11.5), (7.3, 11.9, 12.0), (6.2, 7.1, 11.7), (6.6, 7.2, 11.5), (6.0, 7.0, 11.5), (6.0, 7.0, 11.8)],
    [(6.0, 8.7, 12.7), (5.6, 8.6, 12.8), (6.2, 8.2, 12.8), (6.0, 8.3, 12.9), (6.4, 8.7, 12.8), (6.7, 9.0, 12.2), (6.8, 11.2, 12.5), (7.2, 12.4, 12.8), (7.4, 12.6), (7.7, 12.5, 12.7), (7.5, 12.6, 12.8), (7.4, 12.6, 12.9), (7.2, 12.5), (7.6, 10.1, 12.4, 12.7), (6.6, 7.6, 9.9, 12.7)],
    [(5.3, 8.0, 12.1), (5.8, 8.5, 12.2), (6.0, 8.7, 11.7), (5.8, 8.4, 11.9), (5.9, 8.6, 11.8), (5.9, 9.8, 11.6), (6.6, 11.4, 13.3), (6.8, 12.0, 12.6), (6.8, 7.4, 12.4), (7.0, 12.4, 12.9), (7.4, 12.3, 12.9), (6.4, 7.0, 12.3), (6.2, 7.4, 12.1), (6.1, 8.5, 12.0), (6.1, 7.4, 12.0)],
    [(6.5, 9.2, 11.9), (7.8, 9.2, 11.9), (7.6, 9.2, 11.0), (7.9, 8.9, 11.9), (8.0, 9.2, 11.9), (8.0, 10.1, 11.6), (8.0, 12.0, 13.4), (8.2, 12.6, 12.7), (8.1, 12.3, 12.7), (8.6, 12.5, 13.2), (8.5, 12.6, 13.0), (8.2, 12.0, 12.3), (8.2, 8.7, 11.7), (8.3, 8.8, 11.6, 12.1), (8.1, 8.8, 11.6, 12.1)],
    [(8.3, 10.0, 12.7), (8.0, 10.0, 12.8), (7.8, 9.8, 12.5), (8.0, 10.0, 12.7), (7.8, 10.0, 12.5), (8.3, 10.4, 12.3), (8.5, 12.0, 13.5), (8.6, 12.8, 13.3), (9.1, 13.1, 13.3), (8.9, 12.9, 13.2), (8.7, 12.9, 13.3), (8.5, 12.8, 13.3), (8.4, 12.7, 13.1), (8.7, 9.4, 12.5, 12.8), (8.4, 9.0, 12.6, 12.7)],
    [(8.3, 9.9, 13.4), (8.5, 9.9, 13.6), (8.3, 9.8, 13.6), (8.5, 9.9, 13.5), (8.6, 9.9, 13.6), (8.7, 10.2, 10.6, 13.5), (8.7, 12.6, 14.1), (8.8, 13.6, 13.9), (9.5, 13.8, 14.0), (9.3, 13.7, 14.1), (8.8, 13.9, 14.1), (8.8, 13.6, 13.8), (8.8, 13.4, 13.6), (8.9, 9.4, 13.6), (8.5, 9.4, 13.7)],
    [(9.6, 11.1, 13.8), (9.1, 11.1, 13.9), (9.4, 11.0, 13.8), (8.9, 10.8, 13.7), (9.1, 11.2, 13.8), (9.5, 12.4, 13.7), (9.8, 13.2, 14.1), (10.0, 14.0, 14.1), (11.4, 13.9, 14.1), (10.2, 14.0, 14.2), (10.3, 13.9, 14.2), (10.0, 13.9, 14.1), (10.0, 13.8, 14.0), (10.2, 10.7, 13.9), (9.7, 11.0, 13.9)],
    [(7.3, 9.3, 11.5), (7.2, 9.4, 11.8), (7.2, 9.2, 11.9), (7.1, 9.2, 11.8), (7.3, 9.2, 11.9), (7.8, 10.0, 11.8), (7.9, 11.3, 12.0), (8.3, 12.0, 12.3), (8.1, 8.5, 12.3), (8.4, 12.2, 12.4), (8.5, 12.1, 12.4), (8.3, 8.6, 12.2), (8.2, 8.5, 12.1), (8.0, 8.6, 12.0), (8.2, 8.5, 12.0)],
    [(7.6, 8.9, 11.7), (7.6, 8.8, 11.8), (7.5, 8.8, 11.6), (7.6, 8.7, 11.7), (7.7, 8.9, 11.5), (7.8, 9.4, 11.5), (7.9, 10.6, 12.1), (8.1, 12.0, 12.3), (8.2, 12.1, 12.2), (8.3, 12.0, 12.2), (8.2, 8.6, 11.9, 12.1), (8.2, 8.5, 11.8), (8.1, 8.6, 11.8), (8.2, 8.6, 11.8), (8.3, 8.7, 11.7)],
    [(7.8, 9.2, 11.9), (7.8, 9.1, 11.8), (7.6, 9.0, 11.9), (7.6, 8.9, 11.8), (7.8, 9.2, 11.8), (7.9, 9.4, 11.6), (8.0, 10.5, 12.0), (8.1, 12.3, 12.6), (8.2, 12.3, 12.7), (8.3, 12.4, 12.6), (8.6, 12.4, 12.6), (8.3, 8.7, 12.3), (8.2, 8.6, 12.2), (8.0, 8.6, 12.2), (8.2, 8.7, 12.0)],
    [(7.1, 8.7, 12.2), (7.1, 8.6, 12.3), (7.0, 8.6, 12.2), (7.2, 8.5, 12.3), (7.2, 8.7, 12.1), (7.2, 9.1, 11.8), (7.4, 10.4, 12.3), (7.6, 11.8, 12.4), (7.5, 12.2, 12.5), (7.8, 12.0, 12.6), (7.8, 11.9, 12.2), (7.5, 8.2, 11.7), (7.4, 8.0, 11.6), (7.5, 7.9, 11.6), (7.4, 7.8, 11.3)],
    [(6.1, 8.3, 12.8), (6.0, 8.2, 12.9), (5.9, 8.0, 12.7), (6.0, 7.9, 12.9), (6.2, 8.5, 12.8), (6.4, 9.3, 12.6), (6.6, 11.5, 12.9), (7.0, 12.6, 13.0), (7.4, 12.9, 13.1), (7.8, 12.9, 13.1), (8.0, 12.9, 13.2), (7.4, 7.8, 12.8), (7.3, 7.9, 12.7), (7.2, 7.7, 12.6), (7.3, 7.8, 12.6)],
    [(6.5, 7.9, 10.4), (6.5, 7.8, 10.5), (6.6, 7.8, 10.4), (6.5, 7.8, 10.3), (6.6, 8.0, 10.3), (6.7, 8.2, 10.3), (6.8, 9.0, 10.2), (7.0, 10.0, 10.6), (7.1, 10.3, 10.8), (7.2, 10.5, 10.9), (7.3, 10.6, 10.9), (7.0, 7.4, 10.6), (7.0, 7.3, 10.5), (6.9, 7.4, 10.4), (6.9, 7.1, 10.3)],
]

# ---------------------------------------------------------------- layout constants
W, H = 1312, 1124
COL_X = [(65, 317), (387, 640), (709, 962), (1033, 1287)]
ROW_Y = [(10, 139), (197, 327), (383, 512), (570, 699), (757, 886), (944, 1074)]
BLUE = "#0000ff"
RED = "#ff0000"
FONT = "Liberation Sans, Arial, sans-serif"
FRAME = "#3a3a3a"

n_t = len(HOURS)
asx_pos = [i + 1 for i in range(n_t)]
sx_pos = [n_t + i + 1 for i in range(n_t)]

fig = go.Figure()
layout = dict(
    width=W, height=H, margin=dict(l=0, r=0, t=0, b=0),
    paper_bgcolor="white", plot_bgcolor="white",
    font=dict(family=FONT, size=17, color="#111"),
    showlegend=True,
)
annotations = []

for g, gene in enumerate(GENES):
    r, c = divmod(g, 4)
    x0, x1 = COL_X[c]
    y0, y1 = ROW_Y[r]
    k = g + 1
    xname = "x" if k == 1 else f"x{k}"
    yname = "y" if k == 1 else f"y{k}"
    xkey = "xaxis" if k == 1 else f"xaxis{k}"
    ykey = "yaxis" if k == 1 else f"yaxis{k}"

    layout[xkey] = dict(
        domain=[x0 / W, x1 / W], anchor=yname,
        range=[0.5, 2 * n_t + 0.5],
        tickmode="array", tickvals=TIME_LABEL_POS, ticktext=TIME_LABELS,
        ticks="inside", ticklen=0,
        minor=dict(tickmode="array", tickvals=asx_pos + sx_pos, ticks="inside",
                   ticklen=4, tickcolor=FRAME, tickwidth=1),
        showline=True, linecolor=FRAME, linewidth=1, mirror="ticks",
        showgrid=False, zeroline=False,
        tickfont=dict(family=FONT, size=17, color="#111"),
    )
    layout[ykey] = dict(
        domain=[1 - y1 / H, 1 - y0 / H], anchor=xname,
        range=Y_RANGES[g], tickmode="array", tickvals=Y_TICKS[g],
        ticks="inside", ticklen=4, tickcolor=FRAME,
        showline=True, linecolor=FRAME, linewidth=1, mirror="ticks",
        showgrid=False, zeroline=False,
        tickfont=dict(family=FONT, size=17, color="#111"),
    )

    for pos, boxes, dots, color in ((asx_pos, ASX_BOXES[g], ASX_DOTS[g], BLUE),
                                    (sx_pos, SX_BOXES[g], SX_DOTS[g], RED)):
        q1 = [b[0] for b in boxes]
        med = [b[1] for b in boxes]
        q3 = [b[2] for b in boxes]
        fig.add_trace(go.Box(
            x=pos, q1=q1, median=med, q3=q3, lowerfence=q1, upperfence=q3,
            width=0.55, whiskerwidth=0, boxpoints=False,
            line=dict(color=color, width=1), fillcolor="rgba(0,0,0,0)",
            xaxis=xname, yaxis=yname, showlegend=False, hoverinfo="skip",
        ))
        dx = [p for p, d in zip(pos, dots) for _ in d]
        dy = [v for d in dots for v in d]
        fig.add_trace(go.Scatter(
            x=dx, y=dy, mode="markers",
            marker=dict(size=6, color=color, line=dict(width=0)),
            xaxis=xname, yaxis=yname, showlegend=False, hoverinfo="skip",
        ))

    # p-value label inside the frame
    annotations.append(dict(
        xref="paper", yref="paper", x=(x0 + 11) / W, y=1 - (y0 + 19) / H,
        xanchor="left", yanchor="middle", showarrow=False,
        text=f"<b>P={P_VALUES[g]}</b>",
        font=dict(family=FONT, size=23, color="black"),
    ))
    # gene name as y title
    annotations.append(dict(
        xref="paper", yref="paper", x=(x0 - 46) / W, y=1 - ((y0 + y1) / 2) / H,
        xanchor="center", yanchor="middle", showarrow=False, textangle=-90,
        text=gene, font=dict(family=FONT, size=17, color="#111"),
    ))
    # x title
    annotations.append(dict(
        xref="paper", yref="paper", x=((x0 + x1) / 2) / W, y=1 - (y1 + 37) / H,
        xanchor="center", yanchor="middle", showarrow=False,
        text="Time(h)", font=dict(family=FONT, size=17, color="#111"),
    ))

# legend entries
for name, color in (("Asx", BLUE), ("Sx", RED)):
    fig.add_trace(go.Scatter(
        x=[None], y=[None], mode="lines+markers", name=name,
        line=dict(color=color, width=2.5), marker=dict(size=14, color=color),
        xaxis="x", yaxis="y", showlegend=True,
    ))

layout["legend"] = dict(
    x=774 / W, y=1 - 978 / H, xanchor="left", yanchor="top",
    bordercolor="#555", borderwidth=1.5, bgcolor="white",
    font=dict(family=FONT, size=18, color="#111"),
    itemwidth=78, tracegroupgap=4,
)
layout["annotations"] = annotations
fig.update_layout(**layout)

fig.write_html("out.html")
